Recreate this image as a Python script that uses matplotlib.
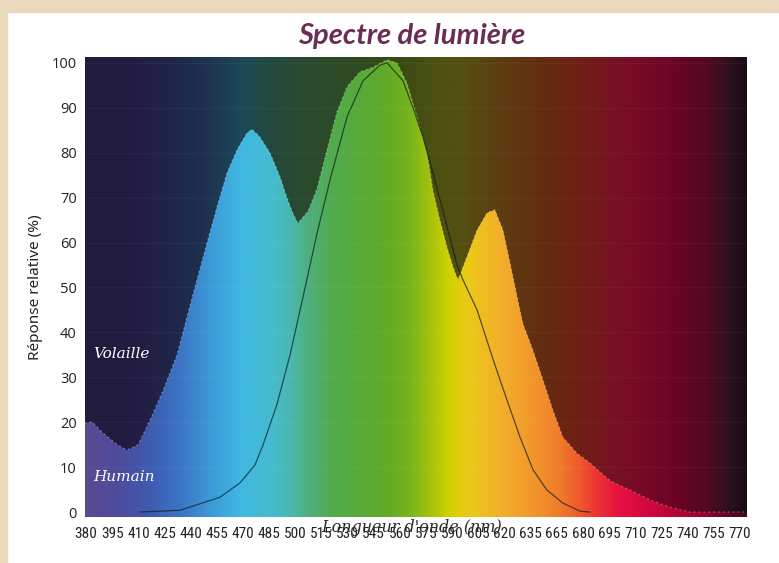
import numpy as np
import matplotlib
matplotlib.use("Agg")
import matplotlib.pyplot as plt
from matplotlib.colors import LinearSegmentedColormap
from matplotlib.patches import Polygon, Rectangle
from matplotlib import font_manager

# ---------------- data ----------------
wavelength_labels = ["380", "395", "410", "425", "440", "455", "470", "485", "500", "515",
                     "530", "545", "560", "575", "590", "605", "620", "635", "665", "680",
                     "695", "710", "725", "740", "755", "770"]
y_ticks = [0, 10, 20, 30, 40, 50, 60, 70, 80, 90, 100]

# Volaille (poultry) curve: positions in tick-index units, relative response (%)
volaille_pos = [-0.04, 0.23, 0.65, 1.19, 1.57, 1.99, 2.45, 2.94, 3.48, 3.86, 4.24, 4.63,
                5.01, 5.39, 5.77, 6.15, 6.35, 6.65, 7.03, 7.42, 7.68, 7.91, 8.10, 8.49,
                8.83, 9.21, 9.59, 9.98, 10.47, 10.97, 11.51, 11.89, 12.27, 12.65, 13.04,
                13.26, 13.53, 13.80, 14.03, 14.22, 14.56, 14.95, 15.33, 15.63, 15.94,
                16.21, 16.48, 16.70, 17.09, 17.47, 17.85, 18.23, 18.77, 19.27, 20.03,
                20.80, 21.56, 22.32, 23.09, 25.27]
volaille_val = [19.8, 20.1, 17.6, 15.0, 13.8, 15.0, 20.5, 27.0, 35.0, 43.5, 51.7, 60.0,
                68.0, 75.5, 80.6, 84.4, 85.2, 83.5, 80.0, 74.6, 70.0, 66.5, 64.3, 67.0,
                72.0, 80.6, 89.0, 94.7, 98.0, 99.0, 100.7, 100.0, 95.5, 88.0, 80.0,
                71.7, 65.0, 59.0, 54.6, 51.7, 56.8, 62.8, 66.6, 67.3, 62.8,
                55.5, 48.0, 42.0, 36.0, 29.4, 22.7, 16.7, 13.1, 10.9, 7.0,
                4.9, 2.7, 1.1, 0.0, 0.0]

# Humain (human) curve
humain_pos = [2.06, 3.59, 5.12, 5.89, 6.46, 6.77, 7.30, 7.80, 8.30, 8.83, 9.33, 9.98,
              10.59, 11.24, 11.51, 12.12, 12.50, 12.88, 13.26, 13.65, 14.18, 14.41,
              14.95, 15.56, 16.09, 16.59, 17.09, 17.62, 18.23, 18.88, 19.27]
humain_val = [0.0, 0.4, 3.3, 6.5, 10.5, 15.0, 24.0, 35.0, 48.0, 62.0, 74.0, 88.0,
              96.0, 99.5, 100.0, 96.0, 90.0, 83.5, 75.5, 67.0, 55.0, 51.7,
              45.0, 34.0, 25.0, 16.7, 9.4, 4.9, 2.0, 0.2, 0.0]

# ---------------- styling ----------------
installed = {f.name for f in font_manager.fontManager.ttflist}
narrow = [f for f in ["Roboto Condensed", "Liberation Sans Narrow", "Open Sans Condensed",
                      "Liberation Sans"] if f in installed]
narrow_font = narrow[0] if narrow else "DejaVu Sans"
narrow_size = 11 if narrow_font in ("Roboto Condensed", "Liberation Sans Narrow",
                                    "Open Sans Condensed") else 9.2

W, H = 779, 563
fig = plt.figure(figsize=(W / 100, H / 100), dpi=100)
fig.patch.set_facecolor("white")
beige = "#e9d8bb"
fig.patches.append(Rectangle((0, 0), 7 / W, 1, transform=fig.transFigure, color=beige, zorder=0))
fig.patches.append(Rectangle((0, 1 - 12 / H), 1, 12 / H, transform=fig.transFigure, color=beige, zorder=0))

L, R, T, B = 85, 747, 57, 517
ax = fig.add_axes([L / W, 1 - B / H, (R - L) / W, (B - T) / H])
xmin, xmax = -0.04, 25.27
ymin, ymax = -1.1, 101.3
ax.set_xlim(xmin, xmax)
ax.set_ylim(ymin, ymax)

bright_stops = [(85, "#5a4a92"), (120, "#4c4c9e"), (150, "#3f5cb0"), (180, "#3c75c5"),
                (210, "#3c9ad8"), (240, "#40b8e2"), (270, "#45bcd0"), (290, "#4ab8b0"),
                (310, "#4fae78"), (330, "#52ab50"), (360, "#58aa38"), (390, "#64ab26"),
                (410, "#78b41c"), (430, "#a4c20c"), (450, "#d2d200"), (470, "#ecc818"),
                (500, "#f2b02a"), (530, "#f29a2c"), (560, "#f07c2a"), (580, "#ee5a2c"),
                (600, "#ec3034"), (620, "#e81040"), (650, "#d00840"), (700, "#a00030"),
                (747, "#400a20")]
dark_stops = [(85, "#211b3e"), (130, "#231c42"), (170, "#1f2548"), (210, "#1d3550"),
              (240, "#1c4858"), (270, "#22483e"), (300, "#2a4a30"), (350, "#2e4a22"),
              (400, "#3a4a15"), (430, "#4a5012"), (460, "#545010"), (490, "#5a4210"),
              (520, "#603510"), (550, "#652a12"), (580, "#6e2014"), (610, "#761322"),
              (640, "#780a28"), (680, "#6a0424"), (710, "#500a22"), (730, "#30101e"),
              (747, "#180c18")]

def make_strip(stops):
    p0, p1 = stops[0][0], stops[-1][0]
    cm = LinearSegmentedColormap.from_list(
        "s", [((p - p0) / (p1 - p0), c) for p, c in stops])
    return cm(np.linspace(0, 1, 700))[np.newaxis, :, :3]

ext = [xmin, xmax, ymin, ymax]
ax.imshow(make_strip(dark_stops), extent=ext, aspect="auto", zorder=1, interpolation="bilinear")
im_b = ax.imshow(make_strip(bright_stops), extent=ext, aspect="auto", zorder=2, interpolation="bilinear")
verts = list(zip(volaille_pos, volaille_val)) + [(xmax, ymin), (xmin, ymin)]
clip = Polygon(verts, closed=True, transform=ax.transData, facecolor="none", edgecolor="none")
ax.add_patch(clip)
im_b.set_clip_path(clip)

for yv in y_ticks[1:]:
    ax.axhline(yv, color="white", alpha=0.04, lw=1, zorder=3)

ax.plot(volaille_pos, volaille_val, color="white", lw=1.0, ls=(0, (1, 2.5)), alpha=0.35, zorder=4)
ax.plot(humain_pos, humain_val, color="#0e1e22", lw=0.9, alpha=0.7, zorder=4)

for s in ax.spines.values():
    s.set_visible(False)
ax.set_xticks(range(len(wavelength_labels)))
ax.set_xticklabels(wavelength_labels, fontfamily=narrow_font,
                   fontsize=narrow_size, color="#222222")
ax.set_yticks(y_ticks)
ax.set_yticklabels([str(v) for v in y_ticks], fontfamily="Open Sans", fontsize=10.5, color="#222222")
ax.tick_params(axis="both", length=0)
ax.tick_params(axis="x", pad=7)
ax.tick_params(axis="y", pad=6)

fig.text(412 / W, 1 - 36 / H, "Spectre de lumière", ha="center", va="center",
         fontfamily="Lato", fontweight="bold", fontstyle="italic", fontsize=21, color="#6b2d55")
fig.text(36 / W, 1 - 287 / H, "Réponse relative (%)", rotation=90, ha="center", va="center",
         fontfamily="Noto Sans", fontsize=11, color="#222222")
fig.text(412 / W, 1 - 527 / H, "Longueur d'onde (nm)", ha="center", va="center",
         fontfamily="DejaVu Serif", fontstyle="italic", fontsize=11.5, color="#2a2a2a")
fig.text(93 / W, 1 - 354 / H, "Volaille", ha="left", va="center",
         fontfamily="DejaVu Serif", fontstyle="italic", fontsize=11, color="white")
fig.text(93 / W, 1 - 477 / H, "Humain", ha="left", va="center",
         fontfamily="DejaVu Serif", fontstyle="italic", fontsize=11, color="white")

fig.savefig("out.png", dpi=100)
